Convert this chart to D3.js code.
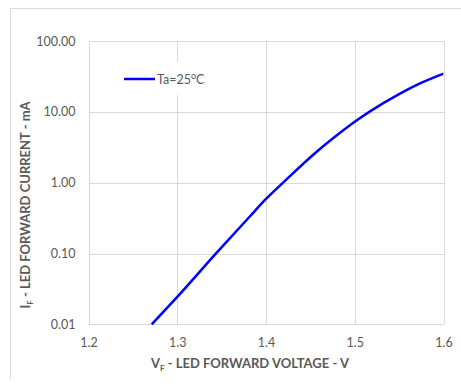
<!DOCTYPE html>
<html>
<head>
<meta charset="utf-8">
<script src="https://cdn.jsdelivr.net/npm/d3@7"></script>
<style>
  html, body { margin: 0; padding: 0; background: #fff; }
  svg { display: block; font-family: Lato, "Open Sans", sans-serif; }
</style>
</head>
<body>
<svg id="chart" width="461" height="387"></svg>
<script>
// Forward voltage (V) vs forward current (mA) at Ta = 25 °C
const forwardVoltage = [1.2712, 1.30, 1.3437, 1.382, 1.40, 1.4214, 1.4571, 1.4777, 1.50, 1.5172, 1.551, 1.5735, 1.60];
const forwardCurrent = [0.01, 0.0244, 0.1005, 0.336, 0.589, 1.064, 2.74, 4.45, 7.24, 10.15, 18.1, 25.2, 34.7];
const xTicks = [1.2, 1.3, 1.4, 1.5, 1.6];
const yTicks = [0.01, 0.1, 1, 10, 100];
const seriesName = "Ta=25";

const svg = d3.select("#chart");
const margin = { left: 88.5, right: 443.5, top: 41, bottom: 324.4 };

const x = d3.scaleLinear().domain([1.2, 1.6]).range([margin.left, margin.right]);
const y = d3.scaleLog().domain([0.01, 100]).range([margin.bottom, margin.top]);

const gridColor = "#d9d9d9";
const textColor = "#595959";

// chart frame
svg.append("path")
  .attr("d", "M10.5,379 V8.5 H461")
  .attr("fill", "none")
  .attr("stroke", gridColor)
  .attr("stroke-width", 1);

// vertical gridlines
const xAxis = d3.axisBottom(x).tickValues(xTicks).tickSize(-(margin.bottom - margin.top)).tickFormat(d3.format(".1f"));
const gx = svg.append("g").attr("transform", `translate(0,${margin.bottom})`).call(xAxis);
gx.select(".domain").remove();
gx.selectAll(".tick line").attr("stroke", gridColor).attr("shape-rendering", "crispEdges");
gx.selectAll(".tick text")
  .attr("y", 23)
  .attr("dy", 0)
  .attr("fill", textColor)
  .style("font-size", "12.5px")
  .style("font-family", "Lato, sans-serif");

// horizontal gridlines
const yAxis = d3.axisLeft(y).tickValues(yTicks).tickSize(-(margin.right - margin.left)).tickFormat(d3.format(".2f"));
const gy = svg.append("g").attr("transform", `translate(${margin.left},0)`).call(yAxis);
gy.select(".domain").remove();
gy.selectAll(".tick line").attr("stroke", gridColor).attr("shape-rendering", "crispEdges");
gy.selectAll(".tick text")
  .attr("x", -13)
  .attr("fill", textColor)
  .style("font-size", "12.5px")
  .style("font-family", "Lato, sans-serif");

// clip curve to plot area
svg.append("clipPath").attr("id", "plot-clip")
  .append("rect")
  .attr("x", margin.left).attr("y", margin.top)
  .attr("width", margin.right - margin.left)
  .attr("height", margin.bottom - margin.top + 1);

const points = forwardVoltage.map((v, i) => [v, forwardCurrent[i]]);
const line = d3.line()
  .x(d => x(d[0]))
  .y(d => y(d[1]))
  .curve(d3.curveMonotoneX);

svg.append("path")
  .datum(points)
  .attr("clip-path", "url(#plot-clip)")
  .attr("fill", "none")
  .attr("stroke", "#0000ff")
  .attr("stroke-width", 2.5)
  .attr("d", line);

// legend
const legend = svg.append("g").attr("transform", "translate(118,62)");
legend.append("rect").attr("width", 70).attr("height", 33).attr("fill", "#fff");
legend.append("line")
  .attr("x1", 6).attr("x2", 37).attr("y1", 17).attr("y2", 17)
  .attr("stroke", "#0000ff").attr("stroke-width", 2.5);
const lt = legend.append("text")
  .attr("x", 39).attr("y", 21.5)
  .attr("fill", textColor)
  .style("font-size", "12.5px");
lt.append("tspan").text(seriesName);
lt.append("tspan").attr("dy", -5).style("font-size", "9px").text("o");
lt.append("tspan").attr("dy", 5).text("C");

// axis titles
const xTitle = svg.append("text")
  .attr("x", 250).attr("y", 368)
  .attr("text-anchor", "middle")
  .attr("fill", textColor)
  .style("font-size", "13px")
  .style("font-weight", "bold");
xTitle.append("tspan").text("V");
xTitle.append("tspan").attr("dy", 3).style("font-size", "8px").text("F");
xTitle.append("tspan").attr("dy", -3).text(" - LED FORWARD VOLTAGE - V");

const yTitle = svg.append("text")
  .attr("transform", "translate(30,205) rotate(-90)")
  .attr("text-anchor", "middle")
  .attr("fill", textColor)
  .style("font-size", "13px")
  .style("font-weight", "bold");
yTitle.append("tspan").text("I");
yTitle.append("tspan").attr("dy", 3).style("font-size", "8px").text("F");
yTitle.append("tspan").attr("dy", -3).text(" - LED FORWARD CURRENT - mA");
</script>
</body>
</html>
